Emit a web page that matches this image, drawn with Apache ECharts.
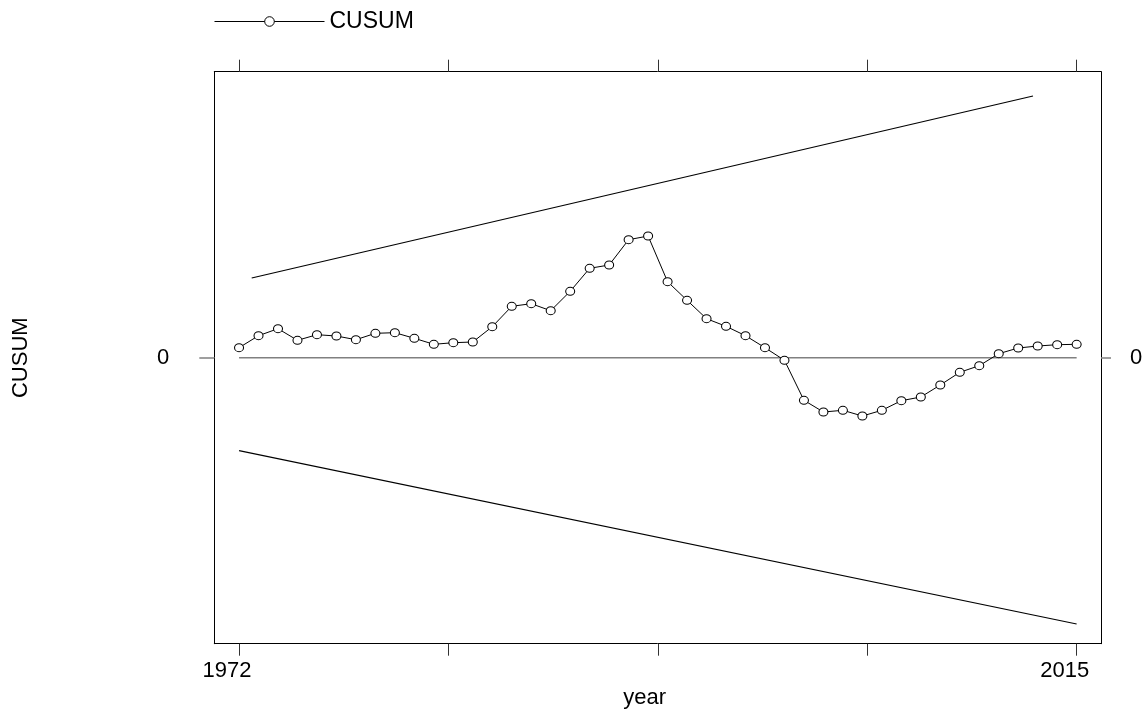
<!DOCTYPE html>
<html>
<head>
<meta charset="utf-8">
<title>CUSUM</title>
<script src="https://cdn.jsdelivr.net/npm/echarts@6/dist/echarts.min.js"></script>
<style>
  html, body { margin: 0; padding: 0; background: #fff; }
  #chart { width: 1148px; height: 710px; }
</style>
</head>
<body>
<div id="chart"></div>
<script>
// Years of the recursive-residual CUSUM
const years = [1972, 1973, 1974, 1975, 1976, 1977, 1978, 1979, 1980, 1981,
               1982, 1983, 1984, 1985, 1986, 1987, 1988, 1989, 1990, 1991,
               1992, 1993, 1994, 1995, 1996, 1997, 1998, 1999, 2000, 2001,
               2002, 2003, 2004, 2005, 2006, 2007, 2008, 2009, 2010, 2011,
               2012, 2013, 2014, 2015];

// CUSUM statistic per year
const cusum = [1.00, 2.20, 2.90, 1.74, 2.30, 2.17, 1.80, 2.44, 2.50, 1.94,
               1.34, 1.50, 1.57, 3.10, 5.14, 5.40, 4.70, 6.64, 8.94, 9.27,
               11.80, 12.17, 7.60, 5.74, 3.90, 3.14, 2.20, 1.00, -0.26, -4.26,
               -5.43, -5.26, -5.83, -5.26, -4.30, -3.93, -2.73, -1.46, -0.80, 0.40,
               0.97, 1.17, 1.30, 1.34];

// Significance bounds: [year, value] end points
const upperBound = [[1972.65, 7.97], [2012.76, 26.17]];
const lowerBound = [[1972, -9.30], [2015, -26.63]];

// Reference line at zero
const zeroLine = [[1972, 0], [2015, 0]];

// Axis ticks and labels
const xTicks = [1972, 1982.75, 1993.5, 2004.25, 2015];
const xLabels = [1972, 2015];
const yTicks = [0];

const FONT = '"Liberation Sans", Arial, Helvetica, sans-serif';

const chart = echarts.init(document.getElementById('chart'), null, { renderer: 'canvas' });

const cusumData = years.map((y, i) => [y, cusum[i]]);

const xRange = { min: 1970.73, max: 2016.25 };
const yRange = { min: -28.6, max: 28.6 };

const plainNumber = (v) => String(v);

const option = {
  backgroundColor: '#ffffff',
  animation: false,
  textStyle: { fontFamily: FONT },
  legend: {
    data: ['CUSUM'],
    left: 214,
    top: 10,
    padding: 0,
    itemWidth: 110,
    itemHeight: 12,
    itemStyle: { color: '#ffffff', borderColor: '#000', borderWidth: 1 },
    lineStyle: { color: '#000', width: 1 },
    textStyle: { fontFamily: FONT, fontSize: 23, color: '#000' },
    selectedMode: false
  },
  grid: {
    left: 214.3,
    right: 47,
    top: 71.7,
    bottom: 66.3,
    containLabel: false,
    outerBoundsMode: 'none'
  },
  xAxis: [
    {
      type: 'value',
      position: 'bottom',
      min: xRange.min,
      max: xRange.max,
      name: 'year',
      nameLocation: 'middle',
      nameGap: 40,
      nameTextStyle: { fontFamily: FONT, fontSize: 22, color: '#000', padding: [0, 26, 0, 0] },
      splitLine: { show: false },
      axisLine: { show: true, onZero: false, lineStyle: { color: '#000', width: 1 } },
      axisTick: { show: true, inside: false, length: 12, customValues: xTicks,
                  lineStyle: { color: '#333', width: 1 } },
      axisLabel: { show: true, customValues: xLabels, margin: 16, formatter: plainNumber,
                   padding: [0, 24, 0, 0],
                   fontFamily: FONT, fontSize: 22, color: '#000' }
    },
    {
      type: 'value',
      position: 'top',
      min: xRange.min,
      max: xRange.max,
      splitLine: { show: false },
      axisLine: { show: true, onZero: false, lineStyle: { color: '#000', width: 1 } },
      axisTick: { show: true, inside: false, length: 12, customValues: xTicks,
                  lineStyle: { color: '#333', width: 1 } },
      axisLabel: { show: false }
    }
  ],
  yAxis: [
    {
      type: 'value',
      position: 'left',
      min: yRange.min,
      max: yRange.max,
      name: 'CUSUM',
      nameLocation: 'middle',
      nameRotate: 90,
      nameGap: 182,
      nameTextStyle: { fontFamily: FONT, fontSize: 22, color: '#000' },
      splitLine: { show: false },
      axisLine: { show: true, onZero: false, lineStyle: { color: '#000', width: 1 } },
      axisTick: { show: true, inside: false, length: 15, customValues: yTicks,
                  lineStyle: { color: '#808080', width: 1.5 } },
      axisLabel: { show: true, customValues: yTicks, margin: 45, formatter: plainNumber,
                   fontFamily: FONT, fontSize: 22, color: '#000' }
    },
    {
      type: 'value',
      position: 'right',
      min: yRange.min,
      max: yRange.max,
      splitLine: { show: false },
      axisLine: { show: true, onZero: false, lineStyle: { color: '#000', width: 1 } },
      axisTick: { show: true, inside: false, length: 10, customValues: yTicks,
                  lineStyle: { color: '#808080', width: 1.5 } },
      axisLabel: { show: true, customValues: yTicks, margin: 29, formatter: plainNumber,
                   fontFamily: FONT, fontSize: 22, color: '#000' }
    }
  ],
  series: [
    {
      name: 'zero',
      type: 'line',
      xAxisIndex: 0,
      yAxisIndex: 0,
      data: zeroLine,
      symbol: 'none',
      silent: true,
      lineStyle: { color: '#808080', width: 1.5 }
    },
    {
      name: 'upper',
      type: 'line',
      xAxisIndex: 0,
      yAxisIndex: 0,
      data: upperBound,
      symbol: 'none',
      silent: true,
      lineStyle: { color: '#000', width: 1.2 }
    },
    {
      name: 'lower',
      type: 'line',
      xAxisIndex: 0,
      yAxisIndex: 0,
      data: lowerBound,
      symbol: 'none',
      silent: true,
      lineStyle: { color: '#000', width: 1.2 }
    },
    {
      name: 'CUSUM',
      type: 'line',
      xAxisIndex: 0,
      yAxisIndex: 0,
      data: cusumData,
      symbol: 'circle',
      symbolSize: [9, 8],
      showAllSymbol: true,
      lineStyle: { color: '#000', width: 1 },
      itemStyle: { color: '#ffffff', borderColor: '#000', borderWidth: 1 },
      z: 5
    }
  ]
};

chart.setOption(option);
</script>
</body>
</html>
